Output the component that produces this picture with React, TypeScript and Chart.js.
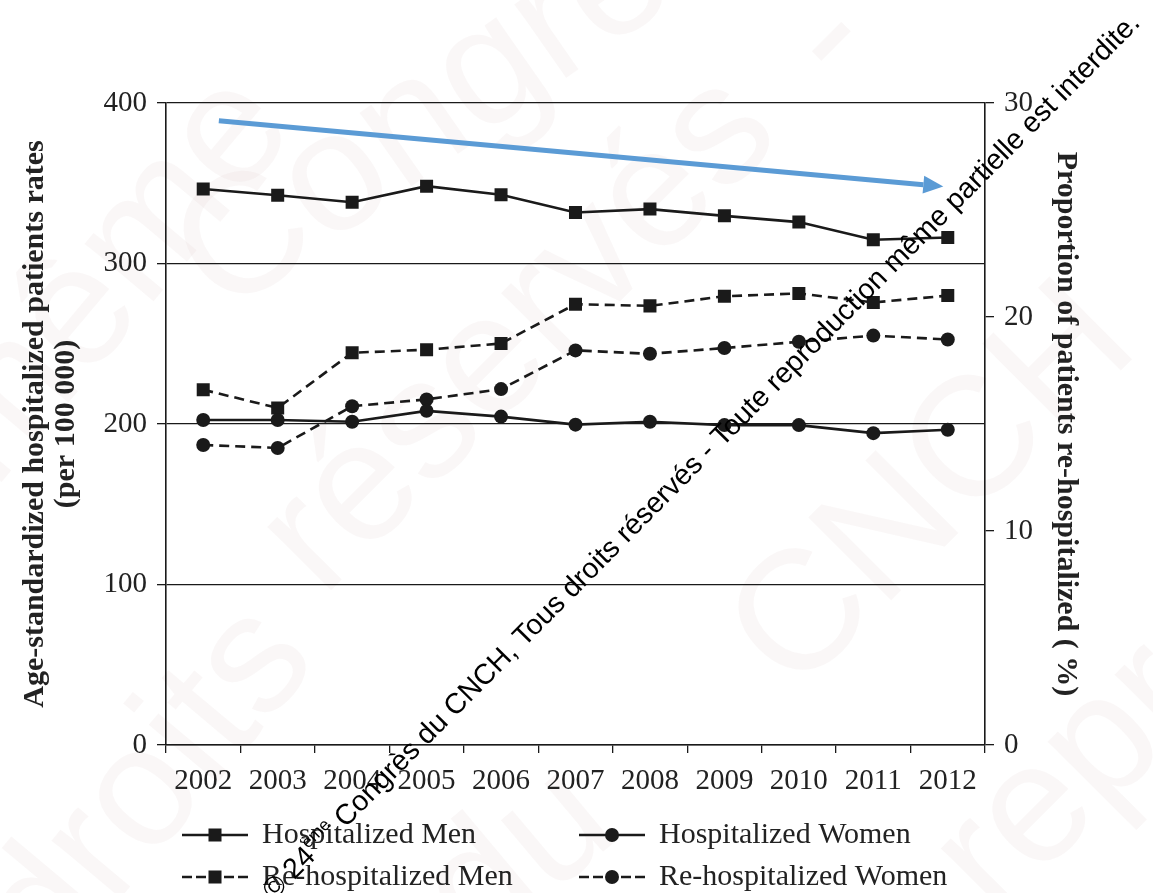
import { useEffect, useRef } from 'react';
import { Chart, registerables } from 'chart.js';

Chart.register(...registerables);

const years = ['2002', '2003', '2004', '2005', '2006', '2007', '2008', '2009', '2010', '2011', '2012'];
const hospitalizedMen = [346.4, 342.5, 338.2, 348.2, 342.8, 331.8, 333.9, 329.7, 325.8, 314.8, 316.2];
const hospitalizedWomen = [202.5, 202.5, 201.4, 208.2, 204.6, 199.6, 201.4, 199.3, 199.3, 194.3, 196.4];
const rehospitalizedMen = [16.6, 15.75, 18.33, 18.47, 18.76, 20.6, 20.52, 20.97, 21.1, 20.68, 21.0];
const rehospitalizedWomen = [14.02, 13.88, 15.83, 16.15, 16.63, 18.44, 18.28, 18.55, 18.84, 19.13, 18.95];
const leftAxisTitle = ['Age-standardized hospitalized patients rates', '(per 100 000)'];
const rightAxisTitle = 'Proportion of patients re-hospitalized ( %)';
const trendArrowX = [0.21, 9.94];
const trendArrowY = [389, 348];
const watermarkParts = ['© 24', 'ème', ' Congrès du CNCH, Tous droits réservés - Toute reproduction même partielle est interdite.'];
const bgWatermarkWords = ['Congrès', 'même', 'réservés', 'droits', 'CNCH', 'du', 'repr', '-'];

const SERIF = '"Liberation Serif", "Times New Roman", serif';
const SANS = '"Liberation Sans", Arial, sans-serif';
const INK = '#1a1a1a';

const backgroundPlugin = {
  id: 'bgWatermark',
  beforeDraw(chart: any) {
    const ctx = chart.ctx;
    ctx.save();
    ctx.fillStyle = '#ffffff';
    ctx.fillRect(0, 0, chart.width, chart.height);
    ctx.fillStyle = 'rgba(225, 212, 212, 0.18)';
    ctx.font = `170px ${SANS}`;
    ctx.textAlign = 'center';
    ctx.textBaseline = 'middle';
    const spots: [number, number, number][] = [
      [460, 95, -35], [110, 280, -50], [520, 335, -45], [150, 790, -50],
      [935, 490, -45], [520, 860, -40], [1070, 780, -45], [830, 40, -45],
    ];
    bgWatermarkWords.forEach((w, i) => {
      const [x, y, r] = spots[i];
      ctx.save();
      ctx.translate(x, y);
      ctx.rotate((r * Math.PI) / 180);
      ctx.fillText(w, 0, 0);
      ctx.restore();
    });
    ctx.restore();
  },
};

const arrowPlugin = {
  id: 'trendArrow',
  afterDatasetsDraw(chart: any) {
    const ctx = chart.ctx;
    const xs = chart.scales.x;
    const ys = chart.scales.y;
    const x1 = xs.getPixelForValue(trendArrowX[0]);
    const y1 = ys.getPixelForValue(trendArrowY[0]);
    const x2 = xs.getPixelForValue(trendArrowX[1]);
    const y2 = ys.getPixelForValue(trendArrowY[1]);
    const ang = Math.atan2(y2 - y1, x2 - x1);
    const headLen = 20;
    const headW = 9;
    ctx.save();
    ctx.strokeStyle = '#5b9bd5';
    ctx.fillStyle = '#5b9bd5';
    ctx.lineWidth = 5;
    ctx.beginPath();
    ctx.moveTo(x1, y1);
    ctx.lineTo(x2 - headLen * Math.cos(ang), y2 - headLen * Math.sin(ang));
    ctx.stroke();
    ctx.beginPath();
    ctx.moveTo(x2, y2);
    const bx = x2 - headLen * Math.cos(ang);
    const by = y2 - headLen * Math.sin(ang);
    ctx.lineTo(bx + headW * Math.sin(ang), by - headW * Math.cos(ang));
    ctx.lineTo(bx - headW * Math.sin(ang), by + headW * Math.cos(ang));
    ctx.closePath();
    ctx.fill();
    ctx.restore();
  },
};

const legendPlugin = {
  id: 'lineLegend',
  afterDraw(chart: any) {
    const ctx = chart.ctx;
    const cols = [182, 579];
    const rows = [835, 877];
    chart.data.datasets.forEach((ds: any, i: number) => {
      const x0 = cols[i % 2];
      const y = rows[Math.floor(i / 2)];
      const len = 66;
      ctx.save();
      ctx.strokeStyle = ds.borderColor;
      ctx.lineWidth = ds.borderWidth;
      if (ds.borderDash) ctx.setLineDash([10, 4]);
      ctx.beginPath();
      ctx.moveTo(x0, y);
      ctx.lineTo(x0 + len, y);
      ctx.stroke();
      ctx.setLineDash([]);
      const cx = x0 + len / 2;
      ctx.fillStyle = ds.backgroundColor;
      if (ds.pointStyle === 'rect') {
        const s = ds.pointRadius * Math.SQRT1_2;
        ctx.fillRect(cx - s, y - s, 2 * s, 2 * s);
      } else {
        ctx.beginPath();
        ctx.arc(cx, y, ds.pointRadius, 0, Math.PI * 2);
        ctx.fill();
      }
      ctx.fillStyle = '#222';
      ctx.font = `30px ${SERIF}`;
      ctx.textBaseline = 'middle';
      ctx.textAlign = 'left';
      ctx.fillText(ds.label, x0 + 80, y);
      ctx.restore();
    });
  },
};

const stampPlugin = {
  id: 'stamp',
  afterDraw(chart: any) {
    const ctx = chart.ctx;
    ctx.save();
    ctx.translate(702, 457);
    ctx.rotate((-45.3 * Math.PI) / 180);
    const base = 28.6;
    const sup = 17;
    ctx.font = `${base}px ${SANS}`;
    const w0 = ctx.measureText(watermarkParts[0]).width;
    const w2 = ctx.measureText(watermarkParts[2]).width;
    ctx.font = `${sup}px ${SANS}`;
    const w1 = ctx.measureText(watermarkParts[1]).width;
    const total = w0 + w1 + w2;
    let x = -total / 2;
    ctx.fillStyle = '#000';
    ctx.textBaseline = 'middle';
    ctx.textAlign = 'left';
    ctx.font = `${base}px ${SANS}`;
    ctx.fillText(watermarkParts[0], x, 0);
    x += w0;
    ctx.font = `${sup}px ${SANS}`;
    ctx.fillText(watermarkParts[1], x, -9);
    x += w1;
    ctx.font = `${base}px ${SANS}`;
    ctx.fillText(watermarkParts[2], x, 0);
    ctx.restore();
  },
};

export default function App() {
  const canvasRef = useRef<HTMLCanvasElement | null>(null);

  useEffect(() => {
    if (!canvasRef.current) return;
    const lineBase = {
      borderColor: INK,
      backgroundColor: INK,
      pointBackgroundColor: INK,
      pointBorderColor: INK,
      borderWidth: 2.6,
      tension: 0,
      fill: false,
      pointBorderWidth: 0,
    };
    const tickFont = { family: SERIF, size: 29 };
    const titleFont = { family: SERIF, size: 30, weight: 'bold', lineHeight: 1.05 };
    const chart = new Chart(canvasRef.current, {
      type: 'line',
      data: {
        labels: years,
        datasets: [
          { ...lineBase, label: 'Hospitalized Men', data: hospitalizedMen, yAxisID: 'y', pointStyle: 'rect', pointRadius: 9.2 },
          { ...lineBase, label: 'Hospitalized Women', data: hospitalizedWomen, yAxisID: 'y', pointStyle: 'circle', pointRadius: 7 },
          { ...lineBase, label: 'Re-hospitalized Men', data: rehospitalizedMen, yAxisID: 'y1', pointStyle: 'rect', pointRadius: 9.2, borderDash: [10, 6] },
          { ...lineBase, label: 'Re-hospitalized Women', data: rehospitalizedWomen, yAxisID: 'y1', pointStyle: 'circle', pointRadius: 7, borderDash: [10, 6] },
        ] as any,
      },
      options: {
        responsive: false,
        animation: false,
        devicePixelRatio: 1,
        layout: { padding: { top: 103, left: 0, right: 0, bottom: 0 } },
        plugins: {
          legend: { display: false },
          tooltip: { enabled: false },
        },
        scales: {
          x: {
            type: 'category',
            offset: true,
            grid: { offset: true, drawOnChartArea: false, drawTicks: true, tickLength: 8, color: INK, lineWidth: 1.3 },
            border: { display: true, color: INK, width: 1.6 },
            ticks: { font: tickFont, color: '#222', padding: 11, maxRotation: 0, autoSkip: false },
            afterFit: (s: any) => { s.height = 893 - 745; },
          },
          y: {
            position: 'left',
            min: 0,
            max: 400,
            ticks: { stepSize: 100, font: tickFont, color: '#222', padding: 10 },
            grid: { color: INK, lineWidth: 1.3, tickLength: 9 },
            border: { display: true, color: INK, width: 1.6 },
            title: { display: true, text: leftAxisTitle, font: titleFont, color: '#222', padding: { top: 19, bottom: 0 } },
            afterFit: (s: any) => { s.width = 166; },
          },
          y1: {
            position: 'right',
            min: 0,
            max: 30,
            ticks: { stepSize: 10, font: tickFont, color: '#222', padding: 10 },
            grid: { drawOnChartArea: false, color: INK, lineWidth: 1.3, tickLength: 9 },
            border: { display: true, color: INK, width: 1.6 },
            title: { display: true, text: rightAxisTitle, font: titleFont, color: '#222', padding: { top: 72, bottom: 0 } },
            afterFit: (s: any) => { s.width = 1153 - 985; },
          },
        },
      } as any,
      plugins: [backgroundPlugin, arrowPlugin, legendPlugin, stampPlugin],
    });
    return () => chart.destroy();
  }, []);

  return (
    <div style={{ position: 'absolute', left: 0, top: 0, width: 1153, height: 893, background: '#fff' }}>
      <canvas ref={canvasRef} width={1153} height={893} style={{ display: 'block' }} />
    </div>
  );
}
